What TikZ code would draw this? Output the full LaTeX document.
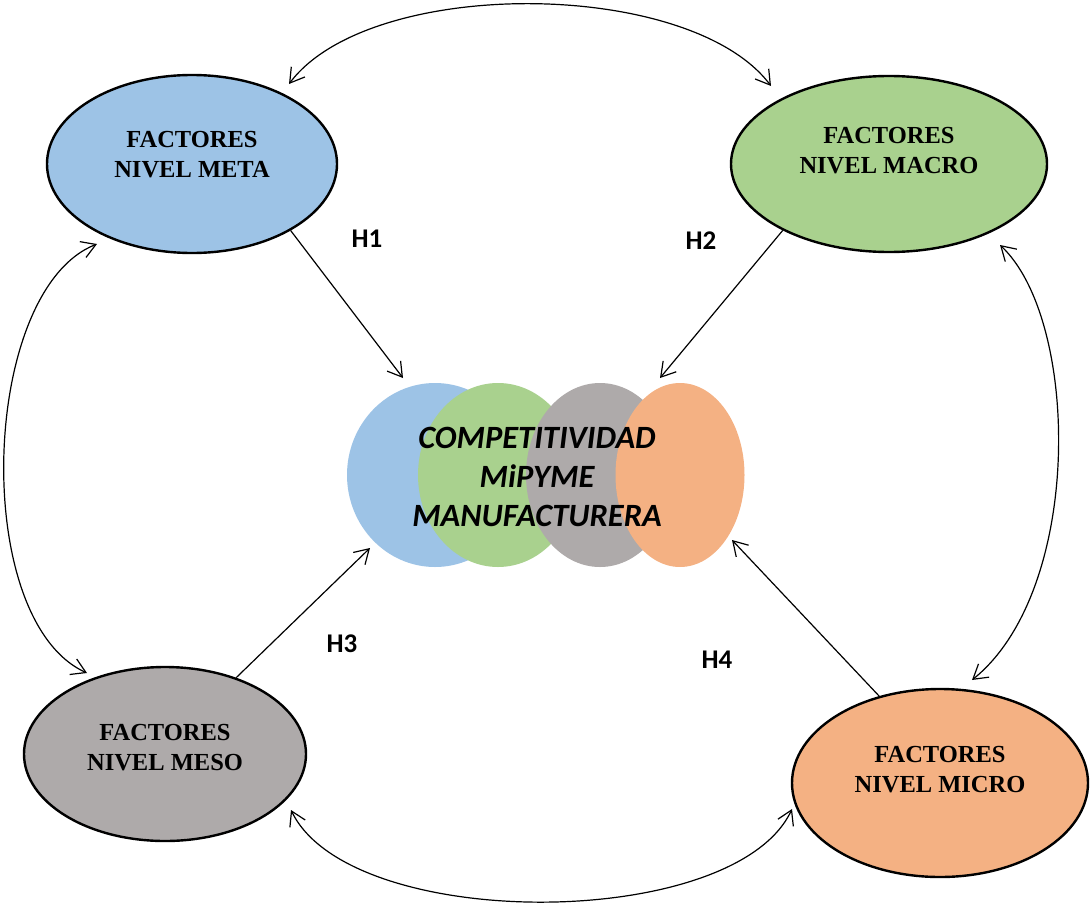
\documentclass[tikz,border=0pt]{standalone}
\usepackage{fontspec}
\setmainfont{Liberation Serif}
\newfontfamily\calibrifont{Carlito}
\usetikzlibrary{shapes.geometric,arrows.meta}

\definecolor{cblue}{HTML}{9DC3E6}
\definecolor{cgreen}{HTML}{A9D18E}
\definecolor{cgray}{HTML}{AEAAAA}
\definecolor{corange}{HTML}{F4B183}

\tikzset{
  level/.style={ellipse, draw=black, line width=2.4pt, inner sep=0pt,
    align=center, font=\fontsize{24.5}{30}\selectfont\bfseries},
  blob/.style={ellipse, inner sep=0pt, draw=none},
  hyp/.style={font=\calibrifont\fontsize{27}{30}\selectfont\bfseries},
  link/.style={line width=1.2pt, -{Straight Barb[length=14pt,width=17pt,line width=1.2pt]}},
  twoway/.style={line width=1.2pt, {Straight Barb[length=14pt,width=17pt,line width=1.2pt]}-{Straight Barb[length=14pt,width=17pt,line width=1.2pt]}},
}

\begin{document}
\begin{tikzpicture}[x=1pt,y=-1pt]
\useasboundingbox (0,0) rectangle (1091,907);

% the four levels of factors
\node[level, fill=cblue, minimum width=290pt, minimum height=178pt, text depth=20pt]
  (meta) at (192,164) {FACTORES\\NIVEL META};
\node[level, fill=cgreen, minimum width=316pt, minimum height=176pt, text depth=28pt]
  (macro) at (889,164) {FACTORES\\NIVEL MACRO};
\node[level, fill=cgray, minimum width=282pt, minimum height=174pt, text depth=14pt]
  (meso) at (165,754) {FACTORES\\NIVEL MESO};
\node[level, fill=corange, minimum width=296pt, minimum height=188pt, text depth=28pt]
  (micro) at (940,783) {FACTORES\\NIVEL MICRO};

% overlapping blobs of the central concept
\node[blob, fill=cblue, minimum width=176pt, minimum height=184pt] (bblue) at (435,475) {};
\node[blob, fill=cgreen, minimum width=160pt, minimum height=184pt] (bgreen) at (498,475) {};
\node[blob, fill=cgray, minimum width=148pt, minimum height=184pt] (bgray) at (600,475) {};
\node[blob, fill=corange, minimum width=129pt, minimum height=184pt] (borange) at (680,475) {};
\node[align=center, inner sep=0pt, font=\calibrifont\fontsize{32.5}{39}\selectfont\bfseries\itshape]
  (comp) at (537,477) {COMPETITIVIDAD\\MiPYME\\MANUFACTURERA};

% hypothesis labels
\node[hyp] (h1) at (367,239) {H1};
\node[hyp] (h2) at (701,241) {H2};
\node[hyp] (h3) at (342,644) {H3};
\node[hyp] (h4) at (717,660) {H4};

% arrow tips
\coordinate (t1) at (403,378);
\coordinate (t2) at (660,378);
\coordinate (t3) at (370,548);
\coordinate (t4) at (732,540);
\coordinate (metaT) at (289,84);
\coordinate (macroT) at (771,86);
\coordinate (metaL) at (97,244);
\coordinate (mesoL) at (87,673);
\coordinate (macroR) at (1000,245);
\coordinate (microR) at (972,680);
\coordinate (mesoB) at (291,810);
\coordinate (microB) at (792,809);

% hypotheses
\draw[link] (meta.-34) -- (t1);
\draw[link] (macro.-148) -- (t2);
\draw[link] (meso.47) -- (t3);
\draw[link] (micro.125) -- (t4);

% interactions between the levels
\draw[twoway] (metaT) .. controls (370,-24) and (690,-22) .. (macroT);
\draw[twoway] (metaL) .. controls (-20,290) and (-30,620) .. (mesoL);
\draw[twoway] (macroR) .. controls (1080,320) and (1084,590) .. (microR);
\draw[twoway] (mesoB) .. controls (350,933) and (735,932) .. (microB);
\end{tikzpicture}
\end{document}
